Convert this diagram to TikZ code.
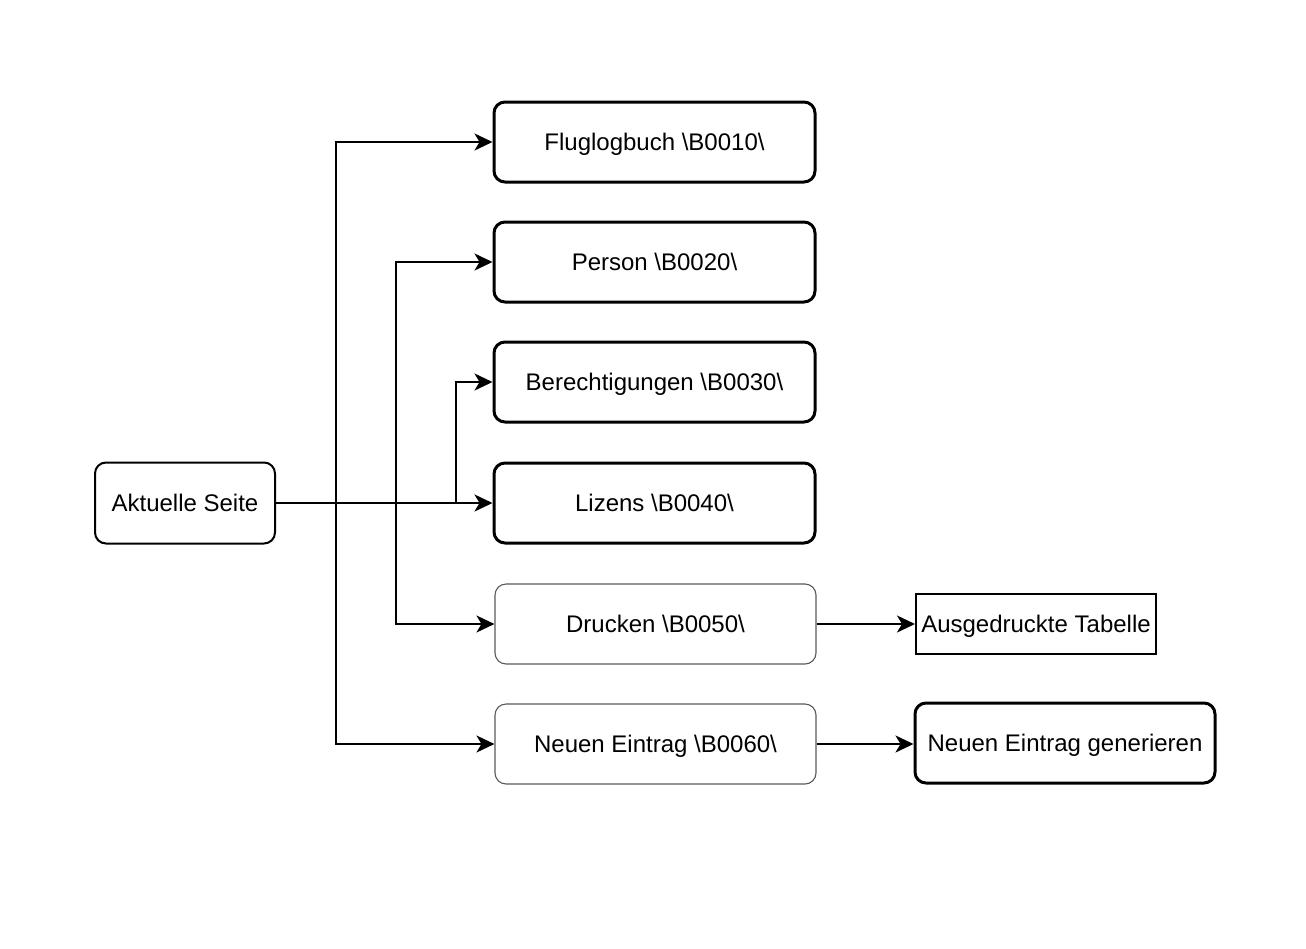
\documentclass[tikz,border=0pt]{standalone}
\usepackage{fontspec}
\setmainfont{Liberation Sans}
\usetikzlibrary{arrows.meta}
\begin{document}
\begin{tikzpicture}[x=1pt,y=-1pt,
  lbl/.style={font=\fontsize{24}{29}\selectfont, text=black, inner sep=0pt, text height=17.2pt, text depth=0pt},
  thickbox/.style={lbl, draw=black, line width=3pt, rounded corners=11pt, minimum width=321pt, minimum height=80pt},
  thinbox/.style={lbl, draw=black!65, line width=1.1pt, rounded corners=11pt, minimum width=321pt, minimum height=80pt},
  startbox/.style={lbl, draw=black, line width=2pt, rounded corners=11pt, minimum width=180pt, minimum height=81pt},
  plainbox/.style={lbl, draw=black, line width=2pt, minimum width=240pt, minimum height=60pt},
  conn/.style={line width=2pt, -{Stealth[length=18pt, width=17pt, inset=5pt]}}
]
\useasboundingbox (0,0) rectangle (1306,948);
\node[startbox] (akt) at (185,503) {Aktuelle Seite};
\node[thickbox] (flug) at (654.5,142) {Fluglogbuch \textbackslash B0010\textbackslash};
\node[thickbox] (pers) at (654.5,262) {Person \textbackslash B0020\textbackslash};
\node[thickbox] (ber) at (654.5,382) {Berechtigungen \textbackslash B0030\textbackslash};
\node[thickbox] (liz) at (654.5,503) {Lizens \textbackslash B0040\textbackslash};
\node[thinbox] (dru) at (655.5,624) {Drucken \textbackslash B0050\textbackslash};
\node[thinbox] (neu) at (655.5,744) {Neuen Eintrag \textbackslash B0060\textbackslash};
\node[plainbox] (tab) at (1036,624) {Ausgedruckte Tabelle};
\node[thickbox, minimum width=300pt] (gen) at (1065,743) {Neuen Eintrag generieren};
\draw[conn] (akt.east) -- (liz.west);
\draw[conn] (akt.east) -- ++(180,0) |- (ber.west);
\draw[conn] (akt.east) -- ++(60,0) |- (flug.west);
\draw[conn] (akt.east) -- ++(120,0) |- (pers.west);
\draw[conn] (akt.east) -- ++(120,0) |- (dru.west);
\draw[conn] (akt.east) -- ++(60,0) |- (neu.west);
\draw[conn] (dru.east) -- (tab.west);
\draw[conn] (neu.east) -- (gen.west |- neu.east);
\end{tikzpicture}
\end{document}
